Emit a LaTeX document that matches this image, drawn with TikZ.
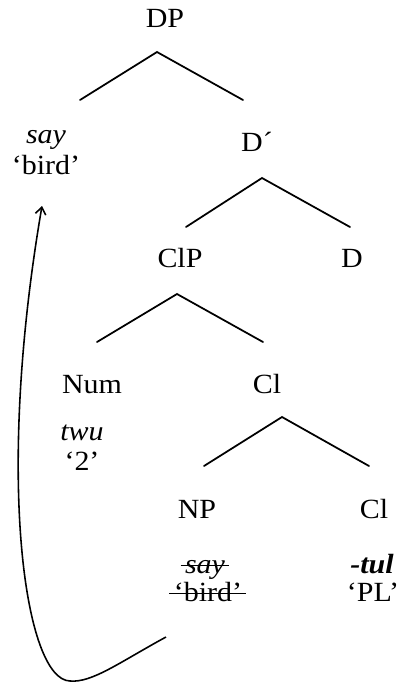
\documentclass[tikz,border=0pt]{standalone}
\usepackage{fontspec}
\setmainfont{Liberation Serif}[FakeStretch=1.08]
\usepackage{tikz}
\usetikzlibrary{arrows.meta}
\newsavebox\strikebox
\newcommand{\struck}[1]{\sbox\strikebox{#1}\rlap{\kern-2.5pt\rule[0.24em]{\dimexpr\wd\strikebox+4.5pt\relax}{0.9pt}}\usebox\strikebox}
\tikzstyle{catnode} = [anchor=base, inner sep=0pt, font=\fontsize{15.8}{18}\selectfont]
\tikzstyle{glossnode} = [anchor=base, inner sep=0pt, font=\fontsize{15.8}{18}\selectfont]
\tikzstyle{branch} = [line width=1pt, line cap=round]
\tikzstyle{movement} = [line width=0.9pt, -{Straight Barb[length=4pt,width=6pt]}]

\begin{document}
\begin{tikzpicture}[x=0.02cm, y=-0.02cm]
                        \useasboundingbox (0, 0) rectangle (398, 683);
                        % categories
                        \node [catnode] (dp) at (165, 27) {DP};
                        \node [catnode] (dbar) at (257, 151) {D\textasciiacute};
                        \node [catnode] (clp) at (180, 267) {ClP};
                        \node [catnode] (d) at (352, 267) {D};
                        \node [catnode] (num) at (92, 393) {Num};
                        \node [catnode] (clbar) at (267, 393) {Cl};
                        \node [catnode] (np) at (197, 518) {NP};
                        \node [catnode] (cl) at (374, 518) {Cl};
                        % words and glosses
                        \node [glossnode] (say) at (46, 143) {\textit{say}};
                        \node [glossnode] (saygl) at (46, 174) {`bird'};
                        \node [glossnode] (twu) at (82, 440) {\textit{twu}};
                        \node [glossnode] (twugl) at (82, 470) {`2'};
                        \node [glossnode] (sayx) at (205, 573) {\struck{\textit{say}}};
                        \node [glossnode] (sayxgl) at (208, 601) {\struck{`bird'}};
                        \node [glossnode] (tul) at (372, 573) {\textbf{\textit{-tul}}};
                        \node [glossnode] (tulgl) at (373, 601) {`PL'};
                        % branches
                        \coordinate (dpTop) at (157, 52);
                        \coordinate (dpL) at (80, 100);
                        \coordinate (dpR) at (243, 100);
                        \coordinate (dbarTop) at (262, 178);
                        \coordinate (dbarL) at (186, 227);
                        \coordinate (dbarR) at (350, 227);
                        \coordinate (clpTop) at (177, 294);
                        \coordinate (clpL) at (97, 342);
                        \coordinate (clpR) at (263, 342);
                        \coordinate (clbarTop) at (282, 417);
                        \coordinate (clbarL) at (204, 466);
                        \coordinate (clbarR) at (369, 466);
                        \draw [branch] (dpL) -- (dpTop) -- (dpR);
                        \draw [branch] (dbarL) -- (dbarTop) -- (dbarR);
                        \draw [branch] (clpL) -- (clpTop) -- (clpR);
                        \draw [branch] (clbarL) -- (clbarTop) -- (clbarR);
                        % movement of the noun
                        \coordinate (trace) at (166, 637);
                        \coordinate (bend) at (70, 681);
                        \coordinate (landing) at (42, 206);
                        \draw [movement] (trace) .. controls (120, 662) and (92, 683) .. (bend)
                            .. controls (25, 680) and (-5, 480) .. (landing);
                    \end{tikzpicture}
\end{document}
